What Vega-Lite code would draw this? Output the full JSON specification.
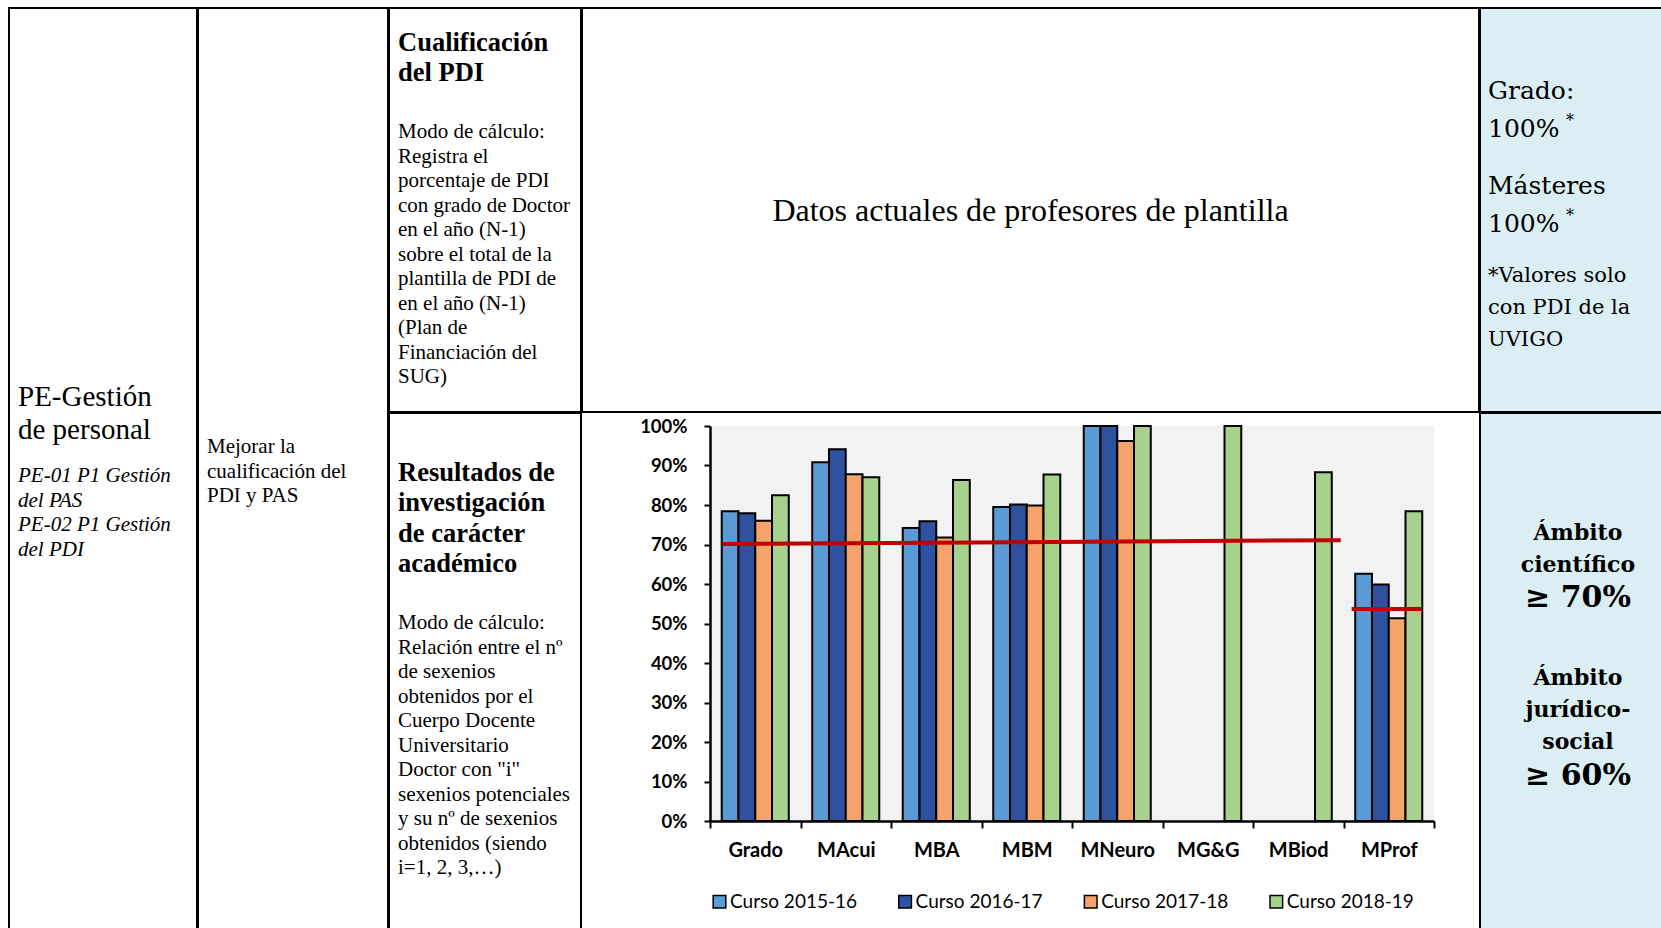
{
  "$schema": "https://vega.github.io/schema/vega-lite/v6.json",
  "padding": {"left": 8, "top": 7, "right": 0, "bottom": 0},
  "background": "white",
  "config": {
    "view": {"stroke": null},
    "axisX": {"labelAngle": 0, "labelFont": "Lato", "labelFontWeight": "bold", "labelFontSize": 20, "labelColor": "black", "domainColor": "black", "domainWidth": 2.5, "tickColor": "black", "tickWidth": 2, "tickSize": 7, "tickBand": "extent", "labelPadding": 12, "grid": false, "title": null},
    "axisY": {"labelOverlap": false, "labelFont": "Lato", "labelFontWeight": "bold", "labelFontSize": 18.5, "labelColor": "black", "domainColor": "black", "domainWidth": 2.5, "tickColor": "black", "tickWidth": 2, "tickSize": 6, "labelPadding": 17, "grid": false, "title": null}
  },
  "spacing": -4,
  "bounds": "full",
  "resolve": {"scale": {"color": "independent"}, "legend": {"color": "independent"}},
  "hconcat": [
    {
      "width": 188, "height": 930,
      "view": {"stroke": "black", "strokeWidth": 2},
      "data": {"values": [
        {"bloque": "titulo", "linea": 0, "texto": "PE-Gestión"},
        {"bloque": "titulo", "linea": 1, "texto": "de personal"},
        {"bloque": "procesos", "linea": 0, "texto": "PE-01 P1 Gestión"},
        {"bloque": "procesos", "linea": 1, "texto": "del PAS"},
        {"bloque": "procesos", "linea": 2, "texto": "PE-02 P1 Gestión"},
        {"bloque": "procesos", "linea": 3, "texto": "del PDI"}
      ]},
      "layer": [
        {
          "transform": [{"filter": "datum.bloque === 'titulo'"}],
          "mark": {"type": "text", "font": "Liberation Serif", "fontSize": 29, "align": "left", "baseline": "alphabetic", "dx": 9, "color": "black"},
          "encoding": {
            "x": {"datum": 0, "type": "quantitative", "scale": {"domain": [0, 1], "nice": false, "zero": false}, "axis": null},
            "y": {"field": "linea", "type": "quantitative", "scale": {"domain": [-12.0606, 16.1212], "reverse": true, "nice": false, "zero": false}, "axis": null},
            "text": {"field": "texto"}
          }
        },
        {
          "transform": [{"filter": "datum.bloque === 'procesos'"}],
          "mark": {"type": "text", "font": "Liberation Serif", "fontSize": 21, "fontStyle": "italic", "align": "left", "baseline": "alphabetic", "dx": 9, "color": "black"},
          "encoding": {
            "x": {"datum": 0, "type": "quantitative", "axis": null},
            "y": {"field": "linea", "type": "quantitative", "scale": {"domain": [-19.1903, 18.4615], "reverse": true, "nice": false, "zero": false}, "axis": null},
            "text": {"field": "texto"}
          }
        }
      ],
      "resolve": {"scale": {"y": "independent"}}
    },
    {
      "width": 190, "height": 930,
      "view": {"stroke": "black", "strokeWidth": 2},
      "data": {"values": [
        {"linea": 0, "texto": "Mejorar la"},
        {"linea": 1, "texto": "cualificación del"},
        {"linea": 2, "texto": "PDI y PAS"}
      ]},
      "mark": {"type": "text", "font": "Liberation Serif", "fontSize": 21, "align": "left", "baseline": "alphabetic", "dx": 9, "color": "black"},
      "encoding": {
        "x": {"datum": 0, "type": "quantitative", "scale": {"domain": [0, 1], "nice": false, "zero": false}, "axis": null},
        "y": {"field": "linea", "type": "quantitative", "scale": {"domain": [-18.0894, 19.7154], "reverse": true, "nice": false, "zero": false}, "axis": null},
        "text": {"field": "texto"}
      }
    },
    {
      "spacing": -4,
      "bounds": "full",
      "vconcat": [
        {
          "width": 192, "height": 404,
          "view": {"stroke": "black", "strokeWidth": 2},
          "data": {"values": [
            {"bloque": "titulo", "linea": 0, "texto": "Cualificación"},
            {"bloque": "titulo", "linea": 1, "texto": "del PDI"},
            {"bloque": "cuerpo", "linea": 0, "texto": "Modo de cálculo:"},
            {"bloque": "cuerpo", "linea": 1, "texto": "Registra el"},
            {"bloque": "cuerpo", "linea": 2, "texto": "porcentaje de PDI"},
            {"bloque": "cuerpo", "linea": 3, "texto": "con grado de Doctor"},
            {"bloque": "cuerpo", "linea": 4, "texto": "en el año (N-1)"},
            {"bloque": "cuerpo", "linea": 5, "texto": "sobre el total de la"},
            {"bloque": "cuerpo", "linea": 6, "texto": "plantilla de PDI de"},
            {"bloque": "cuerpo", "linea": 7, "texto": "en el año (N-1)"},
            {"bloque": "cuerpo", "linea": 8, "texto": "(Plan de"},
            {"bloque": "cuerpo", "linea": 9, "texto": "Financiación del"},
            {"bloque": "cuerpo", "linea": 10, "texto": "SUG)"}
          ]},
          "layer": [
            {
              "transform": [{"filter": "datum.bloque === 'titulo'"}],
              "mark": {"type": "text", "font": "Liberation Serif", "fontSize": 26.5, "fontWeight": "bold", "align": "left", "baseline": "alphabetic", "dx": 9, "color": "black"},
              "encoding": {
                "x": {"datum": 0, "type": "quantitative", "scale": {"domain": [0, 1], "nice": false, "zero": false}, "axis": null},
                "y": {"field": "linea", "type": "quantitative", "scale": {"domain": [-1.4333, 12.0333], "reverse": true, "nice": false, "zero": false}, "axis": null},
                "text": {"field": "texto"}
              }
            },
            {
              "transform": [{"filter": "datum.bloque === 'cuerpo'"}],
              "mark": {"type": "text", "font": "Liberation Serif", "fontSize": 21, "align": "left", "baseline": "alphabetic", "dx": 9, "color": "black"},
              "encoding": {
                "x": {"datum": 0, "type": "quantitative", "axis": null},
                "y": {"field": "linea", "type": "quantitative", "scale": {"domain": [-5.2953, 11.1609], "reverse": true, "nice": false, "zero": false}, "axis": null},
                "text": {"field": "texto"}
              }
            }
          ],
          "resolve": {"scale": {"y": "independent"}}
        },
        {
          "width": 192, "height": 526,
          "view": {"stroke": "black", "strokeWidth": 2},
          "data": {"values": [
            {"bloque": "titulo", "linea": 0, "texto": "Resultados de"},
            {"bloque": "titulo", "linea": 1, "texto": "investigación"},
            {"bloque": "titulo", "linea": 2, "texto": "de carácter"},
            {"bloque": "titulo", "linea": 3, "texto": "académico"},
            {"bloque": "cuerpo", "linea": 0, "texto": "Modo de cálculo:"},
            {"bloque": "cuerpo", "linea": 1, "texto": "Relación entre el nº"},
            {"bloque": "cuerpo", "linea": 2, "texto": "de sexenios"},
            {"bloque": "cuerpo", "linea": 3, "texto": "obtenidos por el"},
            {"bloque": "cuerpo", "linea": 4, "texto": "Cuerpo Docente"},
            {"bloque": "cuerpo", "linea": 5, "texto": "Universitario"},
            {"bloque": "cuerpo", "linea": 6, "texto": "Doctor con \"i\""},
            {"bloque": "cuerpo", "linea": 7, "texto": "sexenios potenciales"},
            {"bloque": "cuerpo", "linea": 8, "texto": "y su nº de sexenios"},
            {"bloque": "cuerpo", "linea": 9, "texto": "obtenidos (siendo"},
            {"bloque": "cuerpo", "linea": 10, "texto": "i=1, 2, 3,…)"}
          ]},
          "layer": [
            {
              "transform": [{"filter": "datum.bloque === 'titulo'"}],
              "mark": {"type": "text", "font": "Liberation Serif", "fontSize": 26.5, "fontWeight": "bold", "align": "left", "baseline": "alphabetic", "dx": 9, "color": "black"},
              "encoding": {
                "x": {"datum": 0, "type": "quantitative", "scale": {"domain": [0, 1], "nice": false, "zero": false}, "axis": null},
                "y": {"field": "linea", "type": "quantitative", "scale": {"domain": [-2.2442, 15.1155], "reverse": true, "nice": false, "zero": false}, "axis": null},
                "text": {"field": "texto"}
              }
            },
            {
              "transform": [{"filter": "datum.bloque === 'cuerpo'"}],
              "mark": {"type": "text", "font": "Liberation Serif", "fontSize": 21, "align": "left", "baseline": "alphabetic", "dx": 9, "color": "black"},
              "encoding": {
                "x": {"datum": 0, "type": "quantitative", "axis": null},
                "y": {"field": "linea", "type": "quantitative", "scale": {"domain": [-8.7984, 12.6273], "reverse": true, "nice": false, "zero": false}, "axis": null},
                "text": {"field": "texto"}
              }
            }
          ],
          "resolve": {"scale": {"y": "independent"}}
        }
      ]
    },
    {
      "spacing": 4,
      "bounds": "full",
      "resolve": {"scale": {"color": "independent"}, "legend": {"color": "independent"}},
      "vconcat": [
        {
          "width": 897, "height": 404,
          "view": {"stroke": "black", "strokeWidth": 2},
          "data": {"values": [{"linea": 0, "texto": "Datos actuales de profesores de plantilla"}]},
          "mark": {"type": "text", "font": "Liberation Serif", "fontSize": 32, "align": "center", "baseline": "alphabetic", "color": "black"},
          "encoding": {
            "y": {"field": "linea", "type": "quantitative", "scale": {"domain": [-213, 191], "reverse": true, "nice": false, "zero": false}, "axis": null},
            "text": {"field": "texto"}
          }
        },
        {
          "spacing": 14,
          "bounds": "flush",
          "resolve": {"scale": {"color": "independent"}, "legend": {"color": "independent"}},
          "hconcat": [
            {
              "width": 114, "height": 395,
              "data": {"values": [{"vacio": ""}]},
              "mark": {"type": "text"},
              "encoding": {"text": {"field": "vacio"}}
            },
            {
              "width": 724, "height": 395,
              "view": {"fill": "#F2F2F2", "stroke": null},
              "layer": [
                {
                  "data": {"values": [
                    {"titulacion": "Grado", "curso": "Curso 2015-16", "valor": 0.784},
                    {"titulacion": "Grado", "curso": "Curso 2016-17", "valor": 0.779},
                    {"titulacion": "Grado", "curso": "Curso 2017-18", "valor": 0.760},
                    {"titulacion": "Grado", "curso": "Curso 2018-19", "valor": 0.825},
                    {"titulacion": "MAcui", "curso": "Curso 2015-16", "valor": 0.908},
                    {"titulacion": "MAcui", "curso": "Curso 2016-17", "valor": 0.941},
                    {"titulacion": "MAcui", "curso": "Curso 2017-18", "valor": 0.878},
                    {"titulacion": "MAcui", "curso": "Curso 2018-19", "valor": 0.870},
                    {"titulacion": "MBA", "curso": "Curso 2015-16", "valor": 0.742},
                    {"titulacion": "MBA", "curso": "Curso 2016-17", "valor": 0.759},
                    {"titulacion": "MBA", "curso": "Curso 2017-18", "valor": 0.718},
                    {"titulacion": "MBA", "curso": "Curso 2018-19", "valor": 0.863},
                    {"titulacion": "MBM", "curso": "Curso 2015-16", "valor": 0.795},
                    {"titulacion": "MBM", "curso": "Curso 2016-17", "valor": 0.801},
                    {"titulacion": "MBM", "curso": "Curso 2017-18", "valor": 0.799},
                    {"titulacion": "MBM", "curso": "Curso 2018-19", "valor": 0.877},
                    {"titulacion": "MNeuro", "curso": "Curso 2015-16", "valor": 1.0},
                    {"titulacion": "MNeuro", "curso": "Curso 2016-17", "valor": 1.0},
                    {"titulacion": "MNeuro", "curso": "Curso 2017-18", "valor": 0.962},
                    {"titulacion": "MNeuro", "curso": "Curso 2018-19", "valor": 1.0},
                    {"titulacion": "MG&G", "curso": "Curso 2018-19", "valor": 1.0},
                    {"titulacion": "MBiod", "curso": "Curso 2018-19", "valor": 0.883},
                    {"titulacion": "MProf", "curso": "Curso 2015-16", "valor": 0.626},
                    {"titulacion": "MProf", "curso": "Curso 2016-17", "valor": 0.599},
                    {"titulacion": "MProf", "curso": "Curso 2017-18", "valor": 0.513},
                    {"titulacion": "MProf", "curso": "Curso 2018-19", "valor": 0.784}
                  ]},
                  "mark": {"type": "bar", "stroke": "black", "strokeWidth": 2},
                  "encoding": {
                    "x": {
                      "field": "titulacion", "type": "nominal", "title": null,
                      "scale": {"domain": ["Grado", "MAcui", "MBA", "MBM", "MNeuro", "MG&G", "MBiod", "MProf"], "paddingInner": 0, "paddingOuter": 0}
                    },
                    "xOffset": {"field": "curso", "type": "nominal", "scale": {"domain": ["Curso 2015-16", "Curso 2016-17", "Curso 2017-18", "Curso 2018-19"], "paddingOuter": 0.7, "paddingInner": 0}},
                    "y": {
                      "field": "valor", "type": "quantitative", "title": null,
                      "scale": {"domain": [0, 1], "nice": false},
                      "axis": {"values": [0, 0.1, 0.2, 0.3, 0.4, 0.5, 0.6, 0.7, 0.8, 0.9, 1], "format": ".0%", "labelOverlap": false}
                    },
                    "color": {
                      "field": "curso", "type": "nominal",
                      "scale": {"domain": ["Curso 2015-16", "Curso 2016-17", "Curso 2017-18", "Curso 2018-19"], "range": ["#5B9BD5", "#2F52A0", "#F4A36A", "#A9D18E"]},
                      "legend": {"orient": "bottom", "direction": "horizontal", "title": null, "symbolType": "square", "symbolSize": 160, "symbolStrokeColor": "black", "symbolStrokeWidth": 1.5, "labelFont": "Lato", "labelFontSize": 19, "labelColor": "black", "columnPadding": 37.6, "labelOffset": 1, "offset": 32}
                    }
                  }
                },
                {
                  "data": {"values": [{"ambito": "científico", "desde": "Grado", "hasta": "MBiod", "inicio": 0.701, "fin": 0.711}]},
                  "mark": {"type": "rule", "color": "#C00000", "strokeWidth": 4},
                  "encoding": {
                    "x": {"field": "desde", "type": "nominal", "bandPosition": 0.136, "title": null, "scale": {"domain": ["Grado", "MAcui", "MBA", "MBM", "MNeuro", "MG&G", "MBiod", "MProf"]}},
                    "x2": {"field": "hasta", "bandPosition": 0.97},
                    "y": {"field": "inicio", "type": "quantitative", "title": null, "axis": {"values": [0, 0.1, 0.2, 0.3, 0.4, 0.5, 0.6, 0.7, 0.8, 0.9, 1], "format": ".0%", "labelOverlap": false}},
                    "y2": {"field": "fin"}
                  }
                },
                {
                  "data": {"values": [{"ambito": "jurídico-social", "desde": "MProf", "hasta": "MProf", "inicio": 0.537, "fin": 0.537}]},
                  "mark": {"type": "rule", "color": "#C00000", "strokeWidth": 4},
                  "encoding": {
                    "x": {"field": "desde", "type": "nominal", "bandPosition": 0.09, "title": null, "scale": {"domain": ["Grado", "MAcui", "MBA", "MBM", "MNeuro", "MG&G", "MBiod", "MProf"]}},
                    "x2": {"field": "hasta", "bandPosition": 0.86},
                    "y": {"field": "inicio", "type": "quantitative", "title": null, "axis": {"values": [0, 0.1, 0.2, 0.3, 0.4, 0.5, 0.6, 0.7, 0.8, 0.9, 1], "format": ".0%", "labelOverlap": false}},
                    "y2": {"field": "fin"}
                  }
                }
              ]
            }
          ]
        }
      ]
    },
    {
      "spacing": -4,
      "bounds": "full",
      "vconcat": [
        {
          "width": 200, "height": 404,
          "view": {"stroke": "black", "strokeWidth": 2, "fill": "#DAEEF3"},
          "data": {"values": [
            {"bloque": "grado", "linea": 0, "texto": "Grado:"},
            {"bloque": "grado", "linea": 1, "texto": "100%"},
            {"bloque": "master", "linea": 0, "texto": "Másteres"},
            {"bloque": "master", "linea": 1, "texto": "100%"},
            {"bloque": "nota", "linea": 0, "texto": "*"},
            {"bloque": "nota", "linea": 1, "texto": "*"},
            {"bloque": "aclaracion", "linea": 0, "texto": "*Valores solo"},
            {"bloque": "aclaracion", "linea": 1, "texto": "con PDI de la"},
            {"bloque": "aclaracion", "linea": 2, "texto": "UVIGO"}
          ]},
          "layer": [
            {
              "transform": [{"filter": "datum.bloque === 'grado'"}],
              "mark": {"type": "text", "font": "DejaVu Serif", "fontSize": 25, "align": "left", "baseline": "alphabetic", "dx": 8, "color": "black"},
              "encoding": {
                "x": {"datum": 0, "type": "quantitative", "scale": {"domain": [0, 1], "nice": false, "zero": false}, "axis": null},
                "y": {"field": "linea", "type": "quantitative", "scale": {"domain": [-2.3681, 8.1802], "reverse": true, "nice": false, "zero": false}, "axis": null},
                "text": {"field": "texto"}
              }
            },
            {
              "transform": [{"filter": "datum.bloque === 'master'"}],
              "mark": {"type": "text", "font": "DejaVu Serif", "fontSize": 25, "align": "left", "baseline": "alphabetic", "dx": 8, "color": "black"},
              "encoding": {
                "x": {"datum": 0, "type": "quantitative", "axis": null},
                "y": {"field": "linea", "type": "quantitative", "scale": {"domain": [-4.8486, 5.6997], "reverse": true, "nice": false, "zero": false}, "axis": null},
                "text": {"field": "texto"}
              }
            },
            {
              "transform": [{"filter": "datum.bloque === 'nota'"}],
              "mark": {"type": "text", "font": "DejaVu Serif", "fontSize": 16, "align": "left", "baseline": "alphabetic", "dx": 86, "color": "black"},
              "encoding": {
                "x": {"datum": 0, "type": "quantitative", "axis": null},
                "y": {"field": "linea", "type": "quantitative", "scale": {"domain": [-1.2421, 3.0105], "reverse": true, "nice": false, "zero": false}, "axis": null},
                "text": {"field": "texto"}
              }
            },
            {
              "transform": [{"filter": "datum.bloque === 'aclaracion'"}],
              "mark": {"type": "text", "font": "DejaVu Serif", "fontSize": 21, "align": "left", "baseline": "alphabetic", "dx": 8, "color": "black"},
              "encoding": {
                "x": {"datum": 0, "type": "quantitative", "axis": null},
                "y": {"field": "linea", "type": "quantitative", "scale": {"domain": [-8.6164, 4.0881], "reverse": true, "nice": false, "zero": false}, "axis": null},
                "text": {"field": "texto"}
              }
            }
          ],
          "resolve": {"scale": {"y": "independent"}}
        },
        {
          "width": 200, "height": 526,
          "view": {"stroke": "black", "strokeWidth": 2, "fill": "#DAEEF3"},
          "data": {"values": [
            {"bloque": "cientifico", "linea": 0, "texto": "Ámbito"},
            {"bloque": "cientifico", "linea": 1, "texto": "científico"},
            {"bloque": "umbral", "linea": 0, "texto": "≥ 70%"},
            {"bloque": "juridico", "linea": 0, "texto": "Ámbito"},
            {"bloque": "juridico", "linea": 1, "texto": "jurídico-"},
            {"bloque": "juridico", "linea": 2, "texto": "social"},
            {"bloque": "umbral", "linea": 1, "texto": "≥ 60%"}
          ]},
          "layer": [
            {
              "transform": [{"filter": "datum.bloque === 'cientifico'"}],
              "mark": {"type": "text", "font": "DejaVu Serif", "fontSize": 22, "fontWeight": "bold", "align": "center", "baseline": "alphabetic", "dx": -2, "color": "black"},
              "encoding": {
                "y": {"field": "linea", "type": "quantitative", "scale": {"domain": [-4.0063, 12.5868], "reverse": true, "nice": false, "zero": false}, "axis": null},
                "text": {"field": "texto"}
              }
            },
            {
              "transform": [{"filter": "datum.bloque === 'juridico'"}],
              "mark": {"type": "text", "font": "DejaVu Serif", "fontSize": 22, "fontWeight": "bold", "align": "center", "baseline": "alphabetic", "dx": -2, "color": "black"},
              "encoding": {
                "y": {"field": "linea", "type": "quantitative", "scale": {"domain": [-8.4472, 7.8882], "reverse": true, "nice": false, "zero": false}, "axis": null},
                "text": {"field": "texto"}
              }
            },
            {
              "transform": [{"filter": "datum.bloque === 'umbral'"}],
              "mark": {"type": "text", "font": "DejaVu Serif", "fontSize": 30, "fontWeight": "bold", "align": "center", "baseline": "alphabetic", "dx": -2, "color": "black"},
              "encoding": {
                "y": {"field": "linea", "type": "quantitative", "scale": {"domain": [-1.0882, 1.8669], "reverse": true, "nice": false, "zero": false}, "axis": null},
                "text": {"field": "texto"}
              }
            }
          ],
          "resolve": {"scale": {"y": "independent"}}
        }
      ]
    }
  ]
}
